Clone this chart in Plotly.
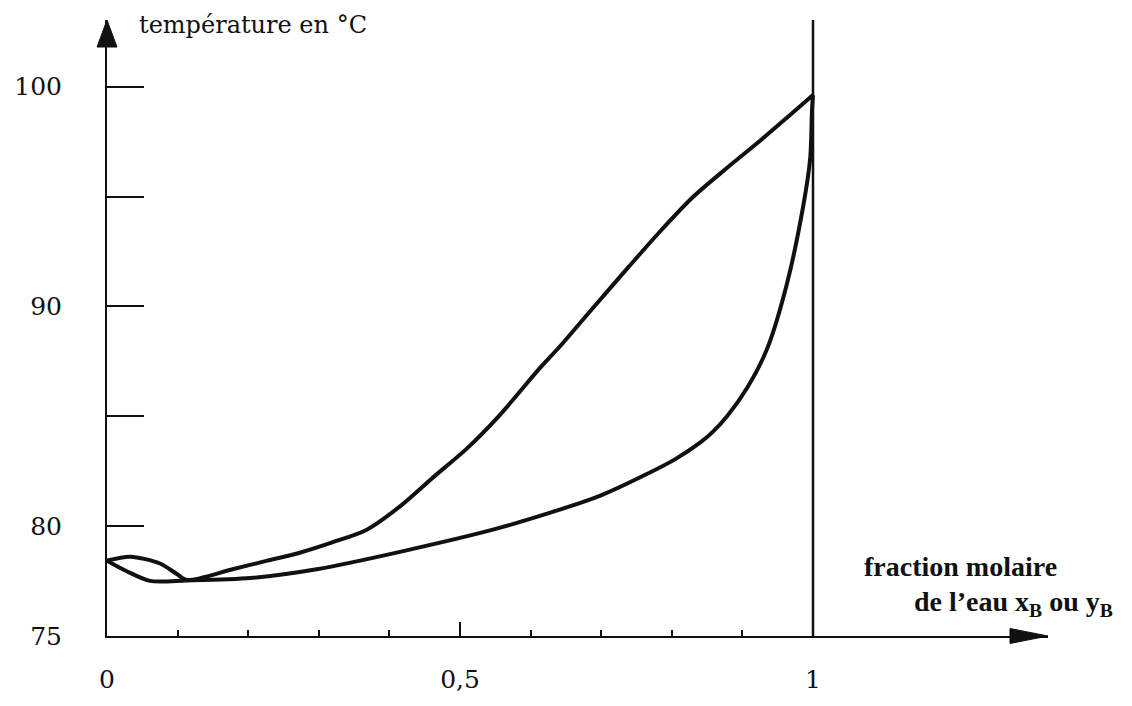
import plotly.graph_objects as go

# ---- data ----
x_dew = [0, 0.033, 0.075, 0.099, 0.113, 0.178, 0.227, 0.273, 0.320, 0.368,
         0.415, 0.462, 0.510, 0.557, 0.613, 0.642, 0.688, 0.737, 0.783, 0.830,
         0.878, 0.925, 0.963, 1.0]
T_dew = [78.43, 78.61, 78.30, 77.82, 77.55, 78.04, 78.43, 78.79, 79.27, 79.84,
         80.90, 82.22, 83.54, 85.08, 87.19, 88.20, 89.92, 91.73, 93.40, 94.98,
         96.30, 97.54, 98.59, 99.62]

x_bub = [0, 0.028, 0.061, 0.113, 0.203, 0.297, 0.415, 0.557, 0.698, 0.769,
         0.805, 0.840, 0.858, 0.878, 0.907, 0.935, 0.963, 0.986, 0.996, 0.9986, 1.0]
T_bub = [78.43, 77.95, 77.51, 77.53, 77.64, 78.04, 78.83, 79.93, 81.38, 82.44,
         83.05, 83.80, 84.29, 84.99, 86.31, 88.07, 91.02, 94.54, 96.74, 98.94, 99.62]

y_tickvals = [75, 80, 90, 100]
y_ticktext = ["75", "80", "90", "100"]
y_minor = [85, 95]
x_tickvals = [0, 0.5, 1]
x_ticktext = ["0", "0,5", "1"]
x_minor = [0.1, 0.2, 0.3, 0.4, 0.6, 0.7, 0.8, 0.9]

# ---- layout geometry ----
W, H = 1132, 706
ML, MR, MT, MB = 107, 84, 20, 49
PW = W - ML - MR
PH = H - MT - MB
X_UNIT = 706.0     # px per unit mole fraction
T_UNIT = 22.72     # px per degree
x_max = PW / X_UNIT
t_max = 75 + PH / T_UNIT

def px(xp):
    return (xp - ML) / PW

def py(yp):
    return (H - MB - yp) / PH

serif = "DejaVu Serif"
bold_serif = "Liberation Serif"
black = "#111111"

fig = go.Figure()
fig.add_trace(go.Scatter(x=x_dew, y=T_dew, mode="lines",
                         line=dict(color=black, width=4, shape="spline", smoothing=0.8),
                         hoverinfo="skip", showlegend=False))
fig.add_trace(go.Scatter(x=x_bub, y=T_bub, mode="lines",
                         line=dict(color=black, width=4, shape="spline", smoothing=0.8),
                         hoverinfo="skip", showlegend=False))

shapes = [
    dict(type="line", xref="x", yref="paper", x0=1, x1=1, y0=0, y1=1.0,
         line=dict(color=black, width=2.5)),
    dict(type="path", xref="paper", yref="paper", xsizemode="pixel", ysizemode="pixel",
         xanchor=0, yanchor=1, path="M0,0 L-10,-27 L10,-27 Z",
         fillcolor=black, line=dict(color=black, width=1)),
    dict(type="path", xref="paper", yref="paper", xsizemode="pixel", ysizemode="pixel",
         xanchor=1, yanchor=0, path="M0,0 L-38,7.5 L-38,-7.5 Z",
         fillcolor=black, line=dict(color=black, width=1)),
]

annotations = [
    dict(xref="paper", yref="paper", x=px(137), y=py(25), xanchor="left", yanchor="middle",
         text="température en °C", showarrow=False,
         font=dict(family=serif, size=24, color=black)),
    dict(xref="paper", yref="paper", x=px(862), y=py(585), xanchor="left", yanchor="middle",
         text="<b>fraction molaire</b>", showarrow=False,
         font=dict(family=bold_serif, size=28, color=black)),
    dict(xref="paper", yref="paper", x=px(912), y=py(623), xanchor="left", yanchor="middle",
         text="<b>de l’eau x<sub>B</sub> ou y<sub>B</sub></b>", showarrow=False,
         font=dict(family=bold_serif, size=28, color=black)),
]

fig.update_layout(
    width=W, height=H, autosize=False,
    margin=dict(l=ML, r=MR, t=MT, b=MB, pad=0),
    paper_bgcolor="white", plot_bgcolor="white",
    shapes=shapes, annotations=annotations,
    xaxis=dict(range=[0, x_max], showline=True, linecolor=black, linewidth=2,
               ticks="inside", ticklen=14, tickwidth=2, tickcolor=black,
               tickmode="array", tickvals=x_tickvals, ticktext=x_ticktext,
               tickfont=dict(family=serif, size=25, color=black),
               ticklabelstandoff=20, showgrid=False, zeroline=False,
               minor=dict(tickmode="array", tickvals=x_minor, ticks="inside",
                          ticklen=6, tickwidth=2, tickcolor=black, showgrid=False)),
    yaxis=dict(range=[75, t_max], showline=True, linecolor=black, linewidth=2,
               ticks="inside", ticklen=37, tickwidth=2, tickcolor=black,
               tickmode="array", tickvals=y_tickvals, ticktext=y_ticktext,
               tickfont=dict(family=serif, size=25, color=black),
               ticklabelstandoff=38, showgrid=False, zeroline=False,
               minor=dict(tickmode="array", tickvals=y_minor, ticks="inside",
                          ticklen=37, tickwidth=2, tickcolor=black, showgrid=False)),
)

fig.write_html("out.html", config={"responsive": False, "displayModeBar": False},
               post_script="document.body.style.margin='0px';document.body.style.overflow='hidden';")
